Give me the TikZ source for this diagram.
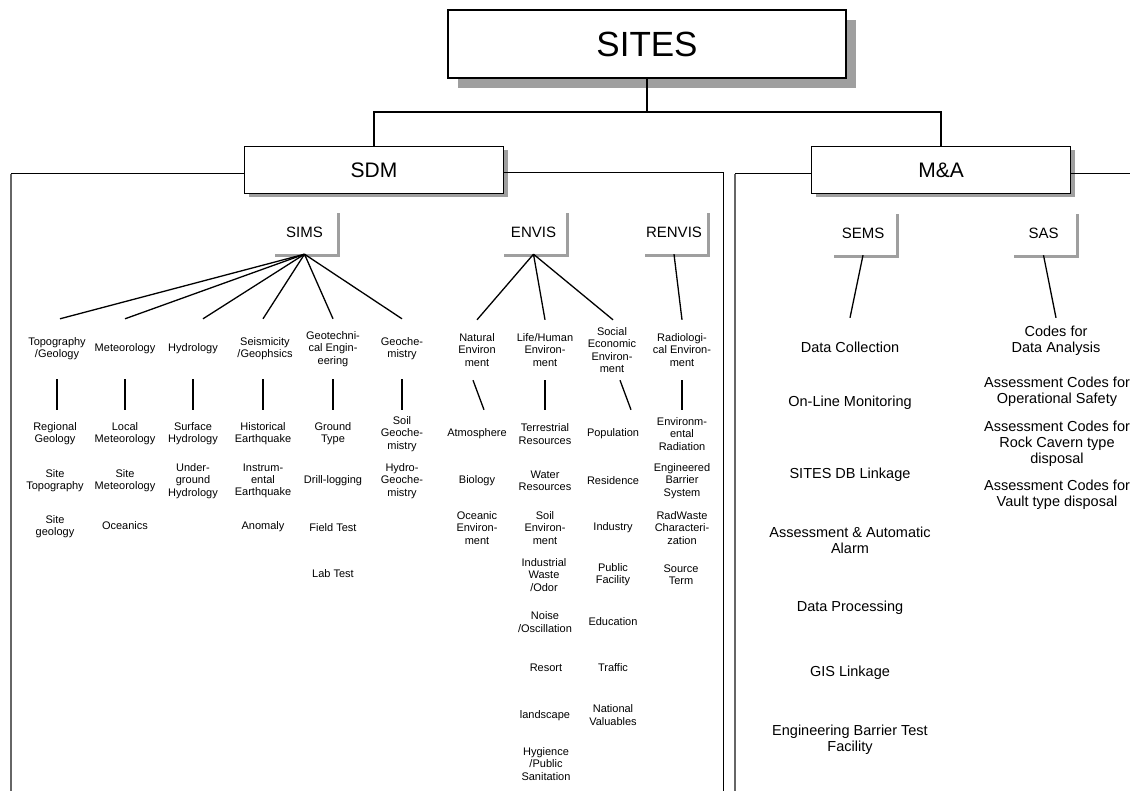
\documentclass[tikz,border=0pt]{standalone}
\usepackage{fontspec}
\setmainfont{Liberation Sans}
\usetikzlibrary{shadows}
\begin{document}
\begin{tikzpicture}[x=1pt,y=-1pt,
  sm/.style={font=\fontsize{11}{12.3}\selectfont, align=center, inner sep=0pt},
  cat/.style={sm, minimum height=60},
  first/.style={sm, minimum height=48},
  big/.style={font=\fontsize{14.5}{16}\selectfont, align=center, inner sep=0pt},
  lab/.style={fill=white, inner sep=0pt, minimum width=65, minimum height=44,
    font=\fontsize{15}{18}\selectfont,
    drop shadow={shadow xshift=3pt, shadow yshift=-3pt, fill=gray!75, opacity=1}},
  mainbox/.style={draw, line width=1.2pt, fill=white, inner sep=0pt,
    minimum width=259, minimum height=47, font=\fontsize{21}{25}\selectfont,
    drop shadow={shadow xshift=4pt, shadow yshift=-4pt, fill=gray!75, opacity=1}},
  tree/.style={line width=1.3pt},
  bus/.style={line width=2pt},
  panel/.style={line width=1pt},
  panelg/.style={line width=1.1pt, black!60}
]
\useasboundingbox (0,0) rectangle (1130,791);

% top
\node[draw, line width=1.5pt, fill=white, inner sep=0pt, minimum width=398, minimum height=68,
  font=\fontsize{35}{40}\selectfont,
  drop shadow={shadow xshift=10pt, shadow yshift=-10pt, fill=gray!75, opacity=1}]
  (sites) at (647,44) {SITES};
\node[mainbox] (sdm) at (374,170) {SDM};
\node[mainbox] (ma) at (941,170) {M\&A};
\draw[bus] (sites.south) -- ++(0,33) -| (sdm.north);
\draw[bus] (sites.south) -- ++(0,33) -| (ma.north);

% panels
\coordinate (sdmBL) at (11,791);
\coordinate (sdmBR) at (723,791);
\coordinate (maBL) at (735,791);
\coordinate (maR) at (1130,174);
\draw[panel] ([yshift=-4pt]sdm.west) -- (11,174);
\draw[panelg] (11,174) -- (sdmBL);
\draw[panel] ([yshift=-3pt]sdm.east) -| (sdmBR);
\draw[panel] ([yshift=-4pt]ma.west) -- (735,174);
\draw[panelg] (735,174) -- (maBL);
\draw[panel] ([yshift=-4pt]ma.east) -- (maR);

% second-level labels
\node[lab] (sims) at (304.5,232) {SIMS};
\node[lab] (envis) at (533.5,232) {ENVIS};
\node[lab] (renvis) at (674,232) {RENVIS};
\node[lab] (sems) at (863,233) {SEMS};
\node[lab] (sas) at (1043.5,233) {SAS};

% SIMS categories
\node[cat] (c1) at (57,349) {Topography\\/Geology};
\node[cat] (c2) at (125,349) {Meteorology};
\node[cat] (c3) at (193,349) {Hydrology};
\node[cat] (c4) at (265,349) {Seismicity\\/Geophsics};
\node[cat] (c5) at (333,349) {Geotechni-\\cal Engin-\\eering};
\node[cat] (c6) at (402,349) {Geoche-\\mistry};
\draw[tree] (sims.south) -- ([xshift=3pt]c1.north);
\draw[tree] (sims.south) -- (c2.north);
\draw[tree] (sims.south) -- ([xshift=10pt]c3.north);
\draw[tree] (sims.south) -- ([xshift=-2pt]c4.north);
\draw[tree] (sims.south) -- (c5.north);
\draw[tree] (sims.south) -- (c6.north);

% SIMS items
\node[first] (i11) at (55,434) {Regional\\Geology};
\node[sm] (i12) at (55,481) {Site\\Topography};
\node[sm] (i13) at (55,527) {Site\\geology};
\node[first] (i21) at (125,434) {Local\\Meteorology};
\node[sm] (i22) at (125,481) {Site\\Meteorology};
\node[sm] (i23) at (125,526) {Oceanics};
\node[first] (i31) at (193,434) {Surface\\Hydrology};
\node[sm] (i32) at (193,481) {Under-\\ground\\Hydrology};
\node[first] (i41) at (263,434) {Historical\\Earthquake};
\node[sm] (i42) at (263,481) {Instrum-\\ental\\Earthquake};
\node[sm] (i43) at (263,527) {Anomaly};
\node[first] (i51) at (333,434) {Ground\\Type};
\node[sm] (i52) at (333,481) {Drill-logging};
\node[sm] (i53) at (333,528) {Field Test};
\node[sm] (i54) at (333,574) {Lab Test};
\node[first] (i61) at (402,434) {Soil\\Geoche-\\mistry};
\node[sm] (i62) at (402,481) {Hydro-\\Geoche-\\mistry};
\draw[tree] (c1.south) -- ([xshift=2pt]i11.north);
\draw[tree] (c2.south) -- (i21.north);
\draw[tree] (c3.south) -- (i31.north);
\draw[tree] ([xshift=-2pt]c4.south) -- (i41.north);
\draw[tree] (c5.south) -- (i51.north);
\draw[tree] (c6.south) -- (i61.north);

% ENVIS categories
\node[cat] (n1) at (477,350) {Natural\\Environ\\ment};
\node[cat] (n2) at (545,350) {Life/Human\\Environ-\\ment};
\node[cat] (n3) at (612,350) {Social\\Economic\\Environ-\\ment};
\node[cat] (r1) at (682,350) {Radiologi-\\cal Environ-\\ment};
\draw[tree] (envis.south) -- (n1.north);
\draw[tree] (envis.south) -- (n2.north);
\draw[tree] (envis.south) -- ([xshift=1pt]n3.north);
\draw[tree] (renvis.south) -- (r1.north);

% ENVIS items
\node[first] (e11) at (477,434) {Atmosphere};
\node[sm] (e12) at (477,481) {Biology};
\node[sm] (e13) at (477,528) {Oceanic\\Environ-\\ment};
\node[first] (e21) at (545,434) {Terrestrial\\Resources};
\node[sm] (e22) at (545,481) {Water\\Resources};
\node[sm] (e23) at (545,528) {Soil\\Environ-\\ment};
\node[sm] (e24) at (544,575) {Industrial\\Waste\\/Odor};
\node[sm] (e25) at (545,622) {Noise\\/Oscillation};
\node[sm] (e26) at (546,668) {Resort};
\node[sm] (e27) at (545,716) {landscape};
\node[sm] (e28) at (546,764) {Hygience\\/Public\\Sanitation};
\node[first] (e31) at (613,434) {Population};
\node[sm] (e32) at (613,481) {Residence};
\node[sm] (e33) at (613,528) {Industry};
\node[sm] (e34) at (613,575) {Public\\Facility};
\node[sm] (e35) at (613,622) {Education};
\node[sm] (e36) at (613,668) {Traffic};
\node[sm] (e37) at (613,715) {National\\Valuables};
\node[first] (e41) at (682,434) {Environm-\\ental\\Radiation};
\node[sm] (e42) at (682,481) {Engineered\\Barrier\\System};
\node[sm] (e43) at (682,528) {RadWaste\\Characteri-\\zation};
\node[sm] (e44) at (681,575) {Source\\Term};
\draw[tree] ([xshift=-4pt]n1.south) -- ([xshift=7pt]e11.north);
\draw[tree] (n2.south) -- (e21.north);
\draw[tree] ([xshift=8pt]n3.south) -- ([xshift=18pt]e31.north);
\draw[tree] (r1.south) -- (e41.north);

% M&A items
\node[big, minimum height=58] (s1) at (850,347) {Data Collection};
\node[big] (s2) at (850,403) {On-Line Monitoring};
\node[big] (s3) at (850,475) {SITES DB Linkage};
\node[big] (s4) at (850,540) {Assessment \& Automatic\\Alarm};
\node[big] (s5) at (850,608) {Data Processing};
\node[big] (s6) at (850,673) {GIS Linkage};
\node[big] (s7) at (850,740) {Engineering Barrier Test\\Facility};
\node[big, minimum height=46] (a1) at (1056,341) {Codes for\\Data Analysis};
\node[big] (a2) at (1057,392) {Assessment Codes for\\Operational Safety};
\node[big] (a3) at (1057,444) {Assessment Codes for\\Rock Cavern type\\disposal};
\node[big] (a4) at (1057,495) {Assessment Codes for\\Vault type disposal};
\draw[tree] (sems.south) -- (s1.north);
\draw[tree] (sas.south) -- (a1.north);
\end{tikzpicture}
\end{document}
